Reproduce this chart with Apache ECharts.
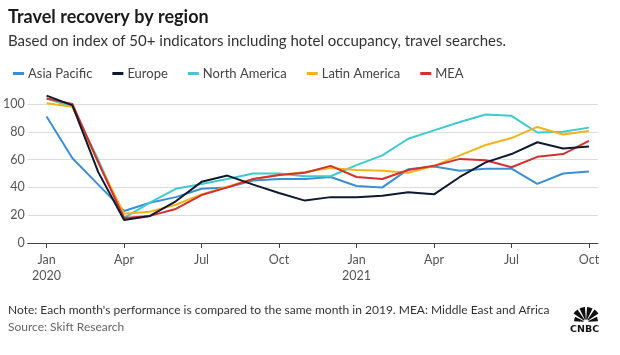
<!DOCTYPE html>
<html>
<head>
<meta charset="utf-8">
<script src="https://cdn.jsdelivr.net/npm/echarts@6/dist/echarts.min.js"></script>
<style>
html,body{margin:0;padding:0;background:#fff;}
#chart{width:620px;height:355px;}
</style>
</head>
<body>
<div id="chart"></div>
<script>
// Months Jan 2020 .. Oct 2021
const months = ['Jan 2020','Feb 2020','Mar 2020','Apr 2020','May 2020','Jun 2020','Jul 2020','Aug 2020','Sep 2020','Oct 2020','Nov 2020','Dec 2020',
  'Jan 2021','Feb 2021','Mar 2021','Apr 2021','May 2021','Jun 2021','Jul 2021','Aug 2021','Sep 2021','Oct 2021'];
const seriesNames = ['Asia Pacific','Europe','North America','Latin America','MEA'];
const asiaPacific  = [91, 61, 42, 23, 29, 33, 39, 40, 45, 46, 46, 47.5, 41, 40, 53, 55, 52, 53.5, 53.5, 42.5, 50, 51.5];
const europe       = [106, 99, 51, 16.5, 19.5, 30, 44, 48.5, 42, 36, 30.5, 33, 33, 34, 36.5, 35, 47.5, 58, 64, 72.5, 68, 69.5];
const northAmerica = [104, 98, 60, 18, 29, 39, 42.5, 46, 50, 50, 48, 48, 56, 63, 75, 81, 87, 92.5, 91.5, 79.5, 80, 83];
const latinAmerica = [100.5, 98, 58, 21, 22.5, 27.5, 35, 40.5, 46, 49, 51, 54, 52.5, 52, 50.5, 55.5, 63, 70.5, 75.5, 83.5, 78, 80.5];
const mea          = [104, 100, 58, 18, 19.5, 24.5, 34.5, 40, 46, 49, 50.5, 55.5, 47.5, 46, 52.5, 55.5, 60.5, 59.5, 54.5, 62, 64, 73.5];
const tickMonths = [0, 3, 6, 9, 12, 15, 18, 21];
const tickLabels = ['Jan\n2020','Apr','Jul','Oct','Jan\n2021','Apr','Jul','Oct'];

const colors = ['#3b8fd5', '#0e1a2e', '#3fc9d1', '#f6b21b', '#d3312f'];
const seriesData = [asiaPacific, europe, northAmerica, latinAmerica, mea];
const zOrder = [2, 6, 3, 4, 5];

const FONT = 'Lato';
const chart = echarts.init(document.getElementById('chart'), null, {renderer: 'canvas'});

// CNBC peacock feathers
const feathers = [];
const pcx = 586, pcy = 322;
const nF = 6;
for (let i = 0; i < nF; i++) {
  const span = Math.PI / nF;
  const a0 = Math.PI + i * span + 0.07;
  const a1 = Math.PI + (i + 1) * span - 0.07;
  feathers.push({type: 'sector', shape: {cx: pcx, cy: pcy, r0: 2.5, r: (i === 0 || i === nF - 1) ? 12 : 15, startAngle: a0, endAngle: a1}, style: {fill: '#111'}});
}

chart.setOption({
  animation: false,
  color: colors,
  textStyle: {fontFamily: FONT},
  title: [
    {text: 'Travel recovery by region', left: 8, top: 8, padding: 0, textStyle: {fontFamily: FONT, fontSize: 18, fontWeight: 'bold', color: '#1a1a1a'}},
    {text: 'Based on index of 50+ indicators including hotel occupancy, travel searches.', left: 8, top: 34, padding: 0, textStyle: {fontFamily: FONT, fontSize: 15, fontWeight: 'normal', color: '#333'}},
    {text: "Note: Each month's performance is compared to the same month in 2019. MEA: Middle East and Africa", left: 8, top: 304, padding: 0, textStyle: {fontFamily: FONT, fontSize: 12, fontWeight: 'normal', color: '#333'}},
    {text: 'Source: Skift Research', left: 8, top: 321, padding: 0, textStyle: {fontFamily: FONT, fontSize: 12, fontWeight: 'normal', color: '#666'}}
  ],
  legend: {
    data: seriesNames,
    left: 13, top: 67, padding: 0,
    icon: 'rect', itemWidth: 11, itemHeight: 3, itemGap: 20,
    textStyle: {fontFamily: FONT, fontSize: 13, color: '#444', padding: [0, 0, 0, -1]}
  },
  grid: {left: 25, right: 22, top: 104, bottom: 112, containLabel: false},
  xAxis: {
    type: 'value', min: -0.73, max: 21.35,
    splitLine: {show: false},
    axisLine: {show: true, lineStyle: {color: '#444', width: 1}},
    axisTick: {show: true, length: 5, lineStyle: {color: '#444'}, customValues: tickMonths},
    axisLabel: {customValues: tickMonths, margin: 9, fontFamily: FONT, fontSize: 12.5, color: '#555', lineHeight: 16,
      formatter: v => tickLabels[tickMonths.indexOf(Math.round(v))] || ''}
  },
  yAxis: {
    type: 'value', min: 0, max: 100, interval: 20,
    axisLine: {show: false}, axisTick: {show: false},
    splitLine: {lineStyle: {color: '#dddddd', width: 1}},
    axisLabel: {margin: 3, fontFamily: FONT, fontSize: 12.5, color: '#555'}
  },
  series: seriesNames.map((name, k) => ({
    name, type: 'line', clip: false, showSymbol: false, symbol: 'none', z: zOrder[k],
    lineStyle: {width: 2, color: colors[k]},
    data: seriesData[k].map((v, i) => [i, v])
  })),
  graphic: feathers.concat([
    {type: 'text', left: 570, top: 325, style: {text: 'CNBC', fontFamily: 'DejaVu Sans', fontWeight: 'bold', fontSize: 9.5, fill: '#111'}}
  ])
});
</script>
</body>
</html>
